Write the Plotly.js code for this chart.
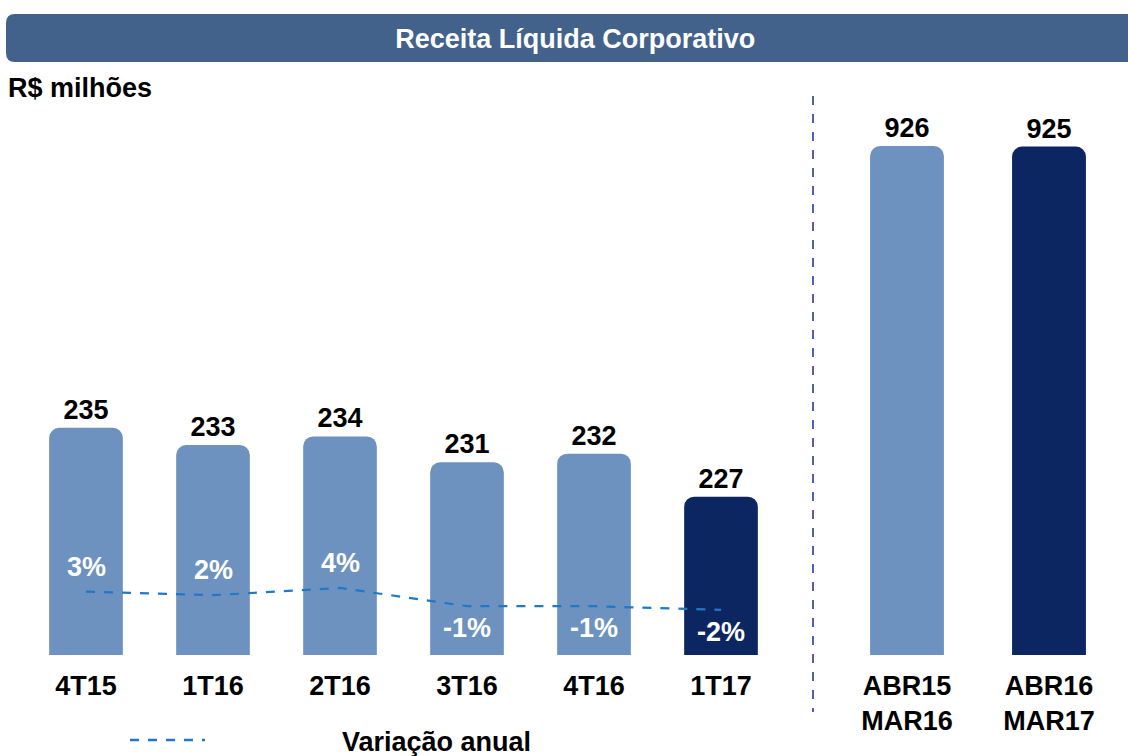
<!DOCTYPE html>
<html><head><meta charset="utf-8">
<script src="https://cdn.plot.ly/plotly-3.0.1.min.js"></script>
<style>html,body{margin:0;padding:0;background:#fff}#chart{width:1128px;height:756px}</style>
</head><body><div id="chart"></div>
<script>
// Data
const quarters = ['4T15','1T16','2T16','3T16','4T16','1T17'];
const quarterRevenue = [235, 233, 234, 231, 232, 227];
const annualChange = [3, 2, 4, -1, -1, -2];
const annualChangeLabels = ['3%','2%','4%','-1%','-1%','-2%'];
const periods = ['ABR15<br>MAR16','ABR16<br>MAR17'];
const periodRevenue = [926, 925];

const light = '#6d92bf', dark = '#0c2662';
const W = 1128, H = 756;
const px = x => x / W, py = y => 1 - y / H;
const FONT = 'Liberation Sans, Arial, sans-serif';
const FS = 27;

const quarterColors = quarters.map((q, i) => i === quarters.length - 1 ? dark : light);
const periodColors = periods.map((p, i) => i === periods.length - 1 ? dark : light);

const traces = [
  {type:'bar', x: quarters, y: quarterRevenue, xaxis:'x', yaxis:'y',
   width: 0.58, marker:{color: quarterColors, cornerradius: 10},
   text: quarterRevenue.map(String), textposition:'outside', cliponaxis:false,
   textfont:{family:FONT, size:FS, color:'#000', weight:'bold'},
   hoverinfo:'skip', showlegend:false},
  {type:'bar', x: periods, y: periodRevenue, xaxis:'x2', yaxis:'y2',
   width: 0.52, marker:{color: periodColors, cornerradius: 10},
   text: periodRevenue.map(String), textposition:'outside', cliponaxis:false,
   textfont:{family:FONT, size:FS, color:'#000', weight:'bold'},
   hoverinfo:'skip', showlegend:false},
  {type:'scatter', mode:'lines', x: quarters, y: annualChange, xaxis:'x', yaxis:'y3',
   line:{color:'#1f78c8', width:2.2, dash:'dash', shape:'linear'}, hoverinfo:'skip', showlegend:false}
];

const annotations = annualChange.map((v, i) => ({
  x: quarters[i], y: v, xref:'x', yref:'y3', text: annualChangeLabels[i],
  showarrow:false, yshift: v >= 0 ? 25 : -22,
  font:{family:FONT, size:FS, color:'#fff', weight:'bold'}
}));
annotations.push(
  {x: px(6), y: py(88), xref:'paper', yref:'paper', xanchor:'left', yanchor:'middle',
   text:'R$ milhões', showarrow:false, font:{family:FONT, size:FS, color:'#000', weight:'bold'}},
  {x: px(340), y: py(742), xref:'paper', yref:'paper', xanchor:'left', yanchor:'middle',
   text:'Variação anual', showarrow:false, font:{family:FONT, size:FS, color:'#000', weight:'bold'}}
);

const rx = 9 / W, ry = 9 / H;
const x0 = px(6), x1 = px(1140), yT = py(14), yB = py(62);
const headerPath = `M ${x0+rx},${yT} L ${x1-rx},${yT} Q ${x1},${yT} ${x1},${yT-ry} L ${x1},${yB+ry} Q ${x1},${yB} ${x1-rx},${yB} L ${x0+rx},${yB} Q ${x0},${yB} ${x0},${yB+ry} L ${x0},${yT-ry} Q ${x0},${yT} ${x0+rx},${yT} Z`;

const shapes = [
  {type:'path', xref:'paper', yref:'paper', path: headerPath, fillcolor:'#42628b', line:{width:0}, layer:'below'},
  {type:'line', xref:'paper', yref:'paper', x0:px(813), x1:px(813), y0:py(96), y1:py(712),
   line:{color:'#1f2a99', width:1.5, dash:'dash'}},
  {type:'line', xref:'paper', yref:'paper', x0:px(130), x1:px(205), y0:py(740), y1:py(740),
   line:{color:'#1f78c8', width:2.5, dash:'dash'}}
];

const yDom = [py(655), py(100)];
const tickFont = {family:FONT, size:FS, color:'#000', weight:'bold'};
const layout = {
  width: W, height: H, margin:{l:0, r:0, t:0, b:0},
  paper_bgcolor:'#fff', plot_bgcolor:'rgba(0,0,0,0)',
  title:{text:'Receita Líquida Corporativo', x:0.51, xanchor:'center', y: py(39), yanchor:'middle', yref:'container',
         font:{family:FONT, size:FS, color:'#fff', weight:'bold'}},
  xaxis:{domain:[px(22.5), px(784.5)], showgrid:false, zeroline:false, showline:false, ticks:'',
         tickfont: tickFont, ticklabelstandoff: 12, fixedrange:true},
  xaxis2:{domain:[px(836), px(1120)], anchor:'y2', showgrid:false, zeroline:false, showline:false, ticks:'',
          tickfont: tickFont, ticklabelstandoff: 12, fixedrange:true},
  yaxis:{domain: yDom, range:[208.6, 273.1], visible:false, fixedrange:true},
  yaxis2:{domain: yDom, anchor:'x2', range:[0, 1009.7], visible:false, fixedrange:true},
  yaxis3:{domain: yDom, overlaying:'y', range:[-14.38, 137.7], visible:false, fixedrange:true},
  annotations, shapes, showlegend:false
};

Plotly.newPlot('chart', traces, layout, {displayModeBar:false, staticPlot:true});
</script></body></html>
